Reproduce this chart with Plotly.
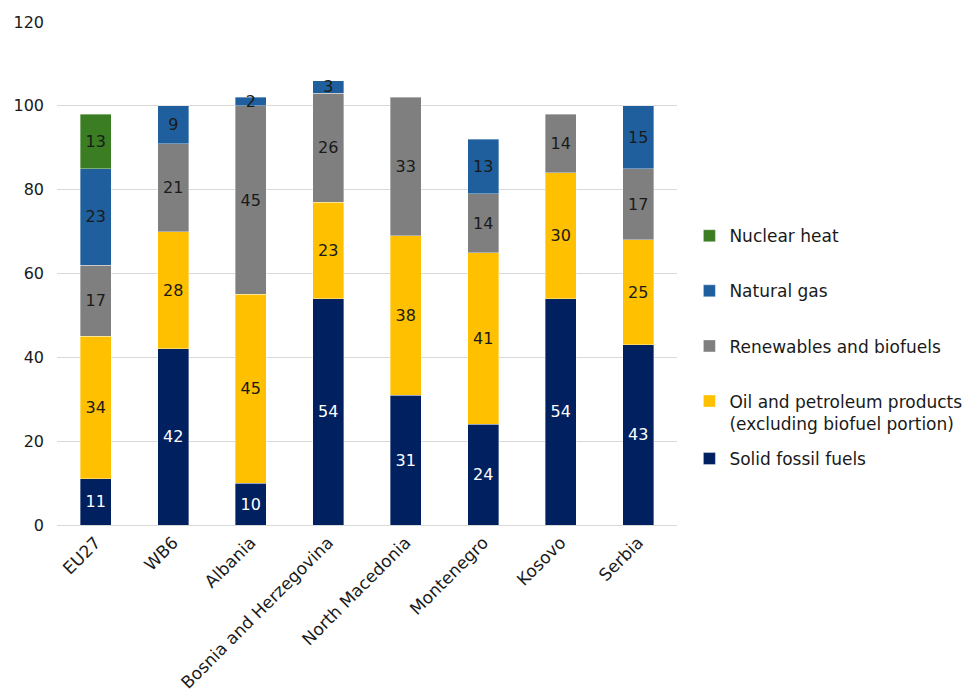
import plotly.graph_objects as go

categories = ["EU27", "WB6", "Albania", "Bosnia and Herzegovina",
              "North Macedonia", "Montenegro", "Kosovo", "Serbia"]

solid_fossil = [11, 42, 10, 54, 31, 24, 54, 43]
oil_petroleum = [34, 28, 45, 23, 38, 41, 30, 25]
renewables = [17, 21, 45, 26, 33, 14, 14, 17]
natural_gas = [23, 9, 2, 3, None, 13, None, 15]
nuclear_heat = [13, None, None, None, None, None, None, None]

series = [
    ("Solid fossil fuels", solid_fossil, "#002060", "white"),
    ("Oil and petroleum products<br>(excluding biofuel portion)", oil_petroleum, "#FFC000", "#1a1a1a"),
    ("Renewables and biofuels", renewables, "#7F7F7F", "#1a1a1a"),
    ("Natural gas", natural_gas, "#1F5F9E", "#1a1a1a"),
    ("Nuclear heat", nuclear_heat, "#3A7D22", "#1a1a1a"),
]

FONT = "DejaVu Sans"

fig = go.Figure()
n = len(series)
for i, (name, vals, color, tcolor) in enumerate(series):
    fig.add_trace(go.Bar(
        x=categories,
        y=vals,
        name=name,
        legend="legend2" if i == 0 else "legend",
        legendgroup=f"g{i}",
        legendrank=n - i,
        marker=dict(color=color, line=dict(color="rgba(255,255,255,0.6)", width=0.6)),
        text=[("" if v is None else str(v)) for v in vals],
        textposition="inside",
        insidetextanchor="middle",
        textangle=0,
        constraintext="none",
        textfont=dict(family=FONT, size=16, color=tcolor),
        hoverinfo="name+y",
    ))

legend_style = dict(
    xanchor="left", yanchor="top",
    traceorder="grouped",
    tracegroupgap=30,
    valign="top",
    font=dict(family=FONT, size=17, color="#1a1a1a"),
    itemclick=False,
)

fig.update_layout(
    barmode="stack",
    bargap=0.6,
    width=979,
    height=697,
    margin=dict(l=57, r=302, t=22, b=172, autoexpand=False),
    paper_bgcolor="white",
    plot_bgcolor="white",
    font=dict(family=FONT, size=16, color="#1a1a1a"),
    legend=dict(x=1.02, y=0.61, **legend_style),
    legend2=dict(x=1.02, y=0.167, **legend_style),
    xaxis=dict(
        tickangle=-45,
        automargin=False,
        showline=True, linecolor="#d9d9d9", linewidth=1,
        ticks="", showgrid=False,
        tickfont=dict(family=FONT, size=17, color="#1a1a1a"),
    ),
    yaxis=dict(
        range=[0, 120], dtick=20,
        automargin=False,
        showgrid=True, gridcolor="#d9d9d9", gridwidth=1,
        zeroline=False, showline=False, ticks="",
        tickfont=dict(family=FONT, size=16, color="#1a1a1a"),
        ticklabelstandoff=12,
    ),
)

fig.write_html("out.html")
